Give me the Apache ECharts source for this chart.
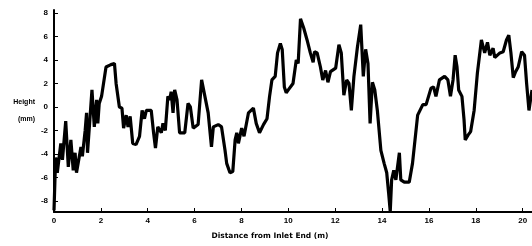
<!DOCTYPE html>
<html>
<head>
<meta charset="utf-8">
<script src="https://cdn.jsdelivr.net/npm/echarts@6/dist/echarts.min.js"></script>
<style>
  html, body { margin: 0; padding: 0; background: #fff; }
  #chart { width: 532px; height: 246px; }
</style>
</head>
<body>
<div id="chart"></div>
<script>
// distance from inlet end (m)
const distance = [
  0, 0.07, 0.14, 0.29, 0.36, 0.5, 0.61, 0.72, 0.82, 0.9, 0.96, 1.15, 1.21, 1.33, 1.39, 1.43,
  1.53, 1.62, 1.72, 1.82, 1.87, 1.93, 2.03, 2.22, 2.43, 2.58, 2.65, 2.79, 2.9, 2.97, 3.08,
  3.16, 3.25, 3.36, 3.5, 3.65, 3.76, 3.86, 3.94, 4.15, 4.25, 4.33, 4.43, 4.58, 4.65, 4.75,
  4.86, 4.94, 5.0, 5.08, 5.15, 5.25, 5.36, 5.58, 5.72, 5.82, 5.94, 6.15, 6.3, 6.44, 6.58,
  6.72, 6.8, 7.01, 7.15, 7.3, 7.37, 7.51, 7.63, 7.73, 7.8, 7.87, 8.01, 8.11, 8.3, 8.51,
  8.63, 8.77, 8.94, 9.09, 9.2, 9.3, 9.44, 9.54, 9.66, 9.74, 9.83, 9.91, 10.0, 10.2, 10.34,
  10.42, 10.52, 10.66, 10.8, 10.94, 11.06, 11.12, 11.23, 11.37, 11.47, 11.59, 11.69, 11.8,
  12.02, 12.16, 12.26, 12.37, 12.49, 12.59, 12.69, 12.8, 12.95, 13.09, 13.2, 13.3, 13.4,
  13.49, 13.59, 13.69, 13.8, 13.95, 14.09, 14.2, 14.28, 14.35, 14.41, 14.5, 14.59, 14.74,
  14.8, 14.95, 15.16, 15.3, 15.52, 15.74, 15.88, 16.09, 16.2, 16.3, 16.45, 16.67, 16.81,
  16.92, 17.03, 17.12, 17.2, 17.27, 17.41, 17.5, 17.55, 17.67, 17.78, 17.93, 18.07, 18.24,
  18.38, 18.5, 18.6, 18.74, 18.81, 19.03, 19.17, 19.31, 19.41, 19.5, 19.6, 19.7, 19.81,
  19.96, 20.08, 20.17, 20.27, 20.4
];
// height (mm)
const height = [
  -8.8, -4.3, -5.6, -3.1, -4.5, -1.2, -5.1, -2.8, -5.4, -3.9, -5.6, -3.4, -4.2, -2.0, -0.5, -3.9,
  -1.1, 1.45, -1.7, 0.6, -1.4, 0.3, 0.9, 3.4, 3.6, 3.7, 2.0, 0.0, -0.1, -1.8, -0.7,
  -1.7, -0.8, -3.1, -3.2, -2.5, -0.3, -1.0, -0.3, -0.3, -2.2, -3.5, -1.7, -2.2, -1.4, -2.0,
  0.9, 0.6, 1.3, -0.5, 1.45, 0.6, -2.2, -2.2, 0.3, 0.0, -1.8, -1.5, 2.3, 0.9, -0.5,
  -3.4, -1.7, -1.5, -1.7, -3.7, -4.8, -5.6, -5.5, -2.8, -2.2, -3.1, -1.8, -2.5, -0.5, -0.1,
  -1.4, -2.2, -1.5, -1.0, 0.9, 2.3, 2.6, 4.6, 5.4, 4.9, 1.7, 1.2, 1.45, 2.0, 4.0,
  3.7, 7.5, 6.7, 5.7, 4.6, 3.8, 4.7, 4.6, 3.4, 2.3, 3.1, 2.1, 3.0,
  3.3, 5.3, 4.6, 1.0, 2.3, 2.0, -0.3, 2.6, 5.1, 7.0, 2.6, 4.9, 3.7,
  -1.4, 2.1, 1.45, -0.3, -3.7, -4.8, -5.6, -7.3, -8.9, -6.2, -5.4, -6.2, -3.9,
  -6.2, -6.4, -6.4, -4.8, -0.7, 0.2, 0.2, 1.6, 1.7, 0.9, 2.3, 2.6, 2.3,
  0.9, 2.3, 4.4, 3.4, 1.45, 0.9, -1.1, -2.8, -2.4, -2.1, -0.3, 2.9, 5.7,
  4.6, 5.5, 4.4, 5.0, 4.2, 4.6, 4.7, 5.7, 6.1, 4.6, 2.5, 3.0, 3.4,
  4.7, 4.4, 2.0, -0.3, 1.45
];
const xTicks = [0, 2, 4, 6, 8, 10, 12, 14, 16, 18, 20];
const yTicks = [-8, -6, -4, -2, 0, 2, 4, 6, 8];

const points = distance.map((d, i) => [d, height[i]]);

const chart = echarts.init(document.getElementById('chart'));
const txt = { color: '#000', fontFamily: 'Liberation Sans', fontWeight: 'bold', fontSize: 8 };

chart.setOption({
  animation: false,
  grid: { left: 54, right: 0, top: 10, bottom: 34 },
  xAxis: {
    type: 'value',
    min: 0,
    max: 20.4,
    name: 'Distance from Inlet End (m)',
    nameLocation: 'middle',
    nameGap: 20,
    nameTextStyle: { color: '#000', fontFamily: 'DejaVu Sans', fontWeight: 'bold', fontSize: 7.5, padding: [0, 46, 0, 0] },
    splitLine: { show: false },
    axisLine: { onZero: false, lineStyle: { color: '#000', width: 2 } },
    axisTick: { inside: true, length: 4, customValues: xTicks, lineStyle: { color: '#000', width: 1 } },
    axisLabel: Object.assign({ customValues: xTicks, margin: 5 }, txt)
  },
  yAxis: {
    type: 'value',
    min: -8.94,
    max: 8.25,
    name: 'Height\n(mm)',
    nameLocation: 'middle',
    nameRotate: 0,
    nameGap: 17,
    nameTextStyle: Object.assign({}, txt, { fontSize: 7, lineHeight: 17 }),
    splitLine: { show: false },
    axisLine: { onZero: false, lineStyle: { color: '#000', width: 2 } },
    axisTick: { inside: true, length: 4, customValues: yTicks, lineStyle: { color: '#000', width: 1 } },
    axisLabel: Object.assign({ customValues: yTicks, margin: 6 }, txt)
  },
  series: [{
    type: 'line',
    data: points,
    showSymbol: false,
    lineStyle: { color: '#000', width: 3.2 },
    clip: false
  }]
});
</script>
</body>
</html>
